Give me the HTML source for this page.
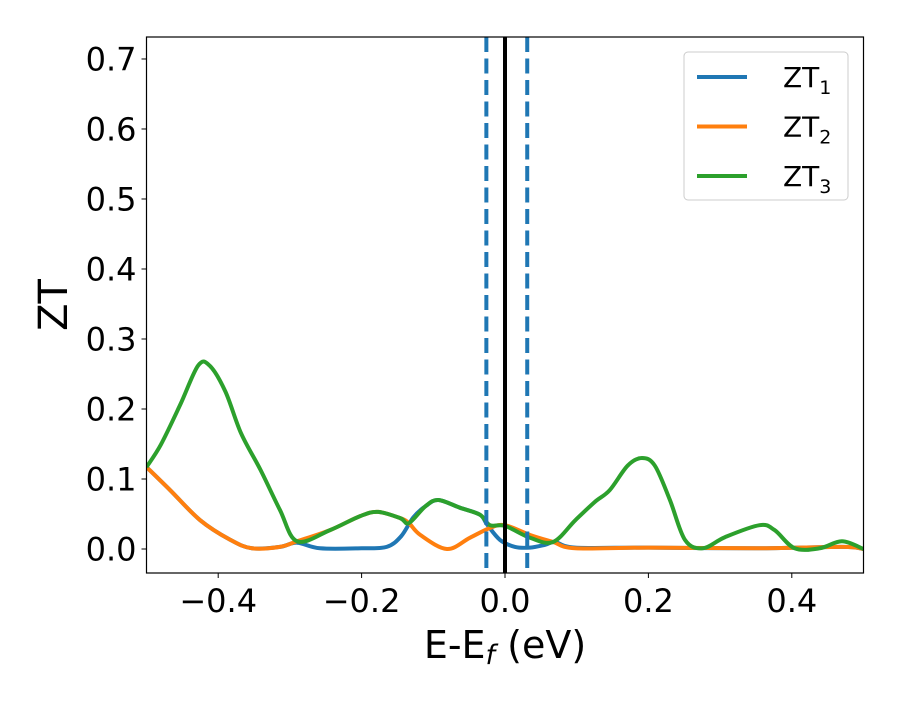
<!DOCTYPE html>
<html><head><meta charset="utf-8"><style>
body{margin:0;background:#fff;}
svg text{font-family:"DejaVu Sans","Liberation Sans",sans-serif;}
</style></head><body>
<svg id="c" width="900" height="700"></svg>
<script>
const xTicks=[-0.4,-0.2,0.0,0.2,0.4];
const xTickLabels=["\u22120.4","\u22120.2","0.0","0.2","0.4"];
const yTicks=[0,0.1,0.2,0.3,0.4,0.5,0.6,0.7];
const yTickLabels=["0.0","0.1","0.2","0.3","0.4","0.5","0.6","0.7"];
const seriesNames=["ZT1","ZT2","ZT3"];
const zt1=[[-0.5,0.117],[-0.467,0.084],[-0.425,0.041],[-0.383,0.013],[-0.353,0.001],[-0.314,0.003],[-0.29,0.009],[-0.258,0.001],[-0.2,0.001],[-0.165,0.003],[-0.145,0.018],[-0.128,0.045],[-0.111,0.061],[-0.093,0.07],[-0.063,0.059],[-0.035,0.049],[-0.025,0.035],[-0.007,0.013],[0.014,0.003],[0.035,0.002],[0.056,0.006],[0.07,0.01],[0.098,0.002],[0.2,0.002],[0.35,0.001],[0.47,0.003],[0.5,0.0]];
const zt2=[[-0.5,0.117],[-0.467,0.084],[-0.425,0.041],[-0.383,0.013],[-0.353,0.001],[-0.314,0.003],[-0.29,0.011],[-0.244,0.027],[-0.202,0.047],[-0.177,0.053],[-0.146,0.044],[-0.134,0.037],[-0.118,0.02],[-0.081,0.0],[-0.049,0.016],[-0.021,0.03],[0.0,0.034],[0.035,0.02],[0.067,0.01],[0.098,0.001],[0.2,0.002],[0.35,0.001],[0.47,0.003],[0.5,0.0]];
const zt3=[[-0.5,0.117],[-0.48,0.149],[-0.453,0.206],[-0.428,0.262],[-0.412,0.262],[-0.39,0.225],[-0.368,0.165],[-0.341,0.113],[-0.314,0.056],[-0.29,0.011],[-0.244,0.027],[-0.202,0.047],[-0.177,0.053],[-0.146,0.044],[-0.134,0.037],[-0.111,0.061],[-0.093,0.07],[-0.063,0.059],[-0.035,0.049],[-0.021,0.034],[0.0,0.033],[0.035,0.016],[0.067,0.01],[0.098,0.041],[0.125,0.067],[0.146,0.084],[0.171,0.119],[0.191,0.13],[0.209,0.119],[0.23,0.07],[0.251,0.013],[0.276,0.001],[0.307,0.017],[0.355,0.034],[0.376,0.027],[0.404,0.001],[0.439,0.001],[0.47,0.011],[0.5,0.0]];
const vLines=[-0.026,0.0,0.031];
const X0=146.5,X1=863.5,Y0=573,Y1=37,xmin=-0.5,xmax=0.5,ymin=-0.0343,ymax=0.7314;
const sx=v=>X0+(v-xmin)/(xmax-xmin)*(X1-X0);
const sy=v=>Y0-(v-ymin)/(ymax-ymin)*(Y0-Y1);
const svg=document.getElementById('c');const NS="http://www.w3.org/2000/svg";
function mk(t,a,p){const e=document.createElementNS(NS,t);for(const k in a)e.setAttribute(k,a[k]);(p||svg).appendChild(e);return e;}
const cp=mk('clipPath',{id:'cp'});mk('rect',{x:X0,y:Y1,width:X1-X0,height:Y0-Y1},cp);
function path(pts){const P=pts.map(p=>[sx(p[0]),sy(p[1])]);let d="M"+P[0][0]+","+P[0][1];
for(let i=0;i<P.length-1;i++){const p0=P[Math.max(0,i-1)],p1=P[i],p2=P[i+1],p3=P[Math.min(P.length-1,i+2)];
d+=" C"+(p1[0]+(p2[0]-p0[0])/6)+","+(p1[1]+(p2[1]-p0[1])/6)+" "+(p2[0]-(p3[0]-p1[0])/6)+","+(p2[1]-(p3[1]-p1[1])/6)+" "+p2[0]+","+p2[1];}return d;}
const cols=["#1f77b4","#ff7f0e","#2ca02c"];
[zt1,zt2,zt3].forEach((s,i)=>{const e=mk('path',{d:path(s),fill:'none',stroke:cols[i],'stroke-width':4,'stroke-linejoin':'round','clip-path':'url(#cp)'});
});
vLines.forEach((v,i)=>{const e=mk('line',{x1:sx(v),x2:sx(v),y1:Y1,y2:Y0,stroke:v===0?'#000':'#1f77b4','stroke-width':4,'stroke-dasharray':v===0?'none':'15,6.5'});
});
const fr=mk('rect',{x:X0,y:Y1,width:X1-X0,height:Y0-Y1,fill:'none',stroke:'#000','stroke-width':1.2});

xTicks.forEach((v,i)=>{mk('line',{x1:sx(v),x2:sx(v),y1:Y0,y2:Y0+5,stroke:'#000'});
const t=mk('text',{x:sx(v),y:Y0+39,'text-anchor':'middle','font-size':32});t.textContent=xTickLabels[i];
});
yTicks.forEach((v,i)=>{mk('line',{x1:X0-5,x2:X0,y1:sy(v),y2:sy(v),stroke:'#000'});
const t=mk('text',{x:X0-10,y:sy(v)+11.5,'text-anchor':'end','font-size':32});t.textContent=yTickLabels[i];
});
const xl=mk('text',{x:505,y:658,'text-anchor':'middle','font-size':38});xl.innerHTML='E-E<tspan font-style="italic" font-size="27" dy="6">f</tspan><tspan dy="-6"> (eV)</tspan>';

const yl=mk('text',{x:67,y:305,'text-anchor':'middle','font-size':40,transform:'rotate(-90 67 305)'});yl.textContent='ZT';

const lg=mk('g',{});
mk('rect',{x:684,y:52,width:164,height:148,rx:4,fill:'#fff',stroke:'#ccc','stroke-width':1},lg);
seriesNames.forEach((n,i)=>{const y=77+i*49.5;mk('line',{x1:697,x2:747,y1:y,y2:y,stroke:cols[i],'stroke-width':4},lg);
const t=mk('text',{x:783,y:y+10,'font-size':28},lg);t.innerHTML='ZT<tspan font-size="19" dy="7">'+(i+1)+'</tspan>';
});
</script>
</body></html>
